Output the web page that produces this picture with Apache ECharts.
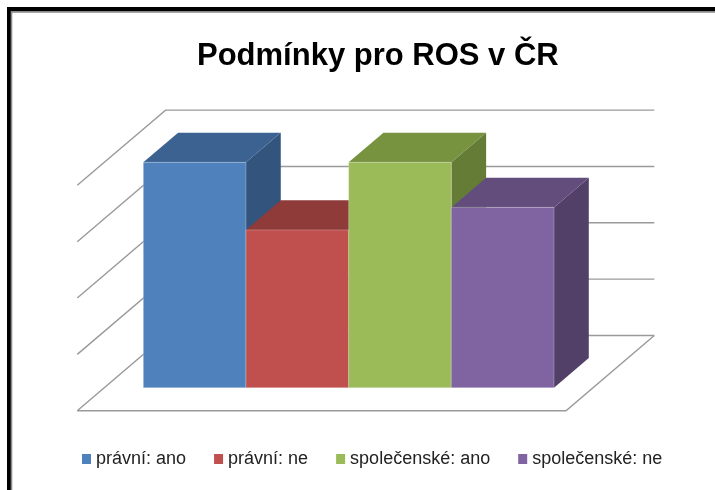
<!DOCTYPE html>
<html>
<head>
<meta charset="utf-8">
<script src="https://cdn.jsdelivr.net/npm/echarts@6/dist/echarts.min.js"></script>
<style>html,body{margin:0;padding:0;background:#fff;}#c{width:715px;height:490px;}</style>
</head>
<body>
<div id="c"></div>
<script>
// ---- data ----
var categories = ['právní: ano', 'právní: ne', 'společenské: ano', 'společenské: ne'];
var values = [4, 2.8, 4, 3.2];
var tickValues = [0, 1, 2, 3, 4];
var titleText = 'Podmínky pro ROS v ČR';

// ---- styles ----
var frontColors = ['#4F81BD', '#C0504D', '#9BBB59', '#8064A2'];
var topColors = ['#3C6292', '#8E3B39', '#77933F', '#634D7D'];
var sideColors = ['#32547D', '#7A3230', '#657C36', '#524068'];

// oblique projection: full floor depth vector (px), bar front/back depth fractions
var DX = 88.3, DY = -75.2, D0 = 0.306, D1 = 0.70, FLOOR_PAD = 0.38;

var chart = echarts.init(document.getElementById('c'), null, {renderer: 'canvas'});

function gridRender(params, api) {
  var v = api.value(0);
  var band = api.size([1, 0])[0];
  var pL = api.coord([0, v]);
  var pR = api.coord([categories.length - 1, v]);
  var y = pL[1];
  var xl = pL[0] - band / 2 - FLOOR_PAD * band;
  var xr = pR[0] + band / 2 + FLOOR_PAD * band;
  var fl = [xl - D0 * DX, y - D0 * DY];
  var fr = [xr - D0 * DX, y - D0 * DY];
  var bl = [xl + (1 - D0) * DX, y + (1 - D0) * DY];
  var br = [xr + (1 - D0) * DX, y + (1 - D0) * DY];
  var st = {stroke: '#9a9a9a', lineWidth: 1.4, fill: null};
  var children = [{type: 'polyline', shape: {points: [fl, bl, br]}, style: st, silent: true}];
  if (v === 0) {
    children.push({type: 'polyline', shape: {points: [fl, fr, br]}, style: st, silent: true});
  }
  return {type: 'group', children: children};
}

function makeBarRender(i) {
  return function (params, api) {
    var cat = api.value(0), val = api.value(1);
    var band = api.size([1, 0])[0];
    var c0 = api.coord([cat, 0]);
    var c1 = api.coord([cat, val]);
    var x0 = c0[0] - band / 2, x1 = c0[0] + band / 2;
    var yb = c0[1], yt = c1[1];
    var ox = (D1 - D0) * DX, oy = (D1 - D0) * DY;
    return {
      type: 'group',
      children: [
        {type: 'polygon', shape: {points: [[x1, yt], [x1 + ox, yt + oy], [x1 + ox, yb + oy], [x1, yb]]},
          style: {fill: sideColors[i]}},
        {type: 'polygon', shape: {points: [[x0, yt], [x1, yt], [x1 + ox, yt + oy], [x0 + ox, yt + oy]]},
          style: {fill: topColors[i]}},
        {type: 'rect', shape: {x: x0, y: yt, width: x1 - x0, height: yb - yt},
          style: {fill: frontColors[i], stroke: 'rgba(255,255,255,0.25)', lineWidth: 1}}
      ]
    };
  };
}

var series = [{
  type: 'custom',
  name: '_grid',
  renderItem: gridRender,
  data: tickValues.map(function (t) { return [t]; }),
  encode: {y: 0},
  silent: true,
  z: 1
}];
categories.forEach(function (name, i) {
  series.push({
    type: 'custom',
    name: name,
    renderItem: makeBarRender(i),
    itemStyle: {color: frontColors[i]},
    data: [[i, values[i]]],
    encode: {x: 0, y: 1},
    z: 2 + i
  });
});

chart.setOption({
  animation: false,
  backgroundColor: '#ffffff',
  graphic: [
    {type: 'rect', z: -10, shape: {x: 7, y: 7, width: 900, height: 900}, style: {fill: '#000'}},
    {type: 'rect', z: -9, shape: {x: 10.7, y: 11, width: 900, height: 900}, style: {fill: '#8a8a8a'}},
    {type: 'rect', z: -8, shape: {x: 12.3, y: 12.7, width: 900, height: 900}, style: {fill: '#fff'}}
  ],
  title: {
    text: titleText,
    left: 192,
    top: 36,
    textStyle: {fontFamily: 'Liberation Sans', fontWeight: 'bold', fontSize: 31, color: '#000'}
  },
  legend: {
    data: categories,
    left: 77,
    top: 445,
    itemWidth: 9,
    itemHeight: 10,
    itemGap: 28,
    icon: 'rect',
    textStyle: {fontFamily: 'Liberation Sans', fontSize: 18, color: '#222'}
  },
  grid: {left: 143.3, right: 161, top: 162.3, bottom: 102.3},
  xAxis: {type: 'category', data: categories, show: false, boundaryGap: true},
  yAxis: {type: 'value', min: 0, max: 4, interval: 1, show: false},
  series: series
});
</script>
</body>
</html>
